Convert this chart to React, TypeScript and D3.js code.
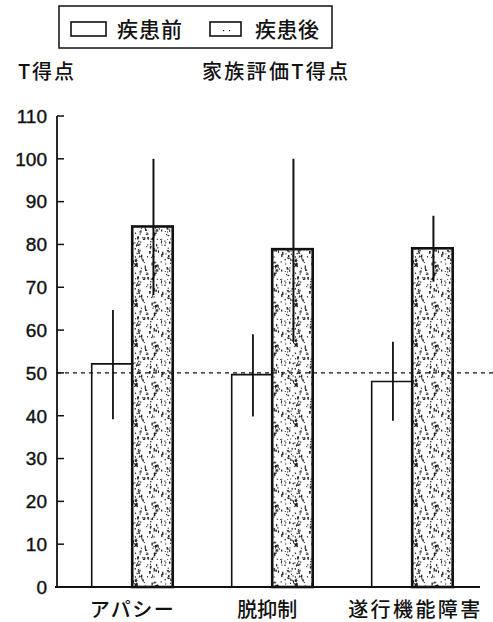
import React from "react";
import * as d3 from "d3";

// data (家族評価 T得点, mean and error bar ends)
const categories = ["アパシー", "脱抑制", "遂行機能障害"];
const seriesNames = ["疾患前", "疾患後"];
const preMean = [52.1, 49.6, 48.0];
const postMean = [84.2, 78.9, 79.1];
const preHigh = [64.7, 59.0, 57.3];
const preLow = [39.2, 39.8, 38.8];
const postHigh = [100, 100, 86.7];
const postLow = [68.2, 57.3, 71.3];
const yTicks = [0, 10, 20, 30, 40, 50, 60, 70, 80, 90, 100, 110];
const refLine = 50;

const W = 493;
const H = 622;
const axisX = 57;
const JP = "'Noto Sans CJK JP', 'Noto Sans', sans-serif";
const NUM = "'Liberation Sans', Arial, sans-serif";

// deterministic speckle for the stippled bars (texture only)
function speckles(n: number, size: number, seed: number) {
  let s = seed;
  const rnd = () => {
    s = (s * 1664525 + 1013904223) % 4294967296;
    return s / 4294967296;
  };
  const out: { x: number; y: number; w: number; h: number }[] = [];
  for (let i = 0; i < n; i++) {
    const tall = rnd() < 0.3;
    out.push({
      x: rnd() * size,
      y: rnd() * size,
      w: 0.9 + rnd() * 0.6,
      h: tall ? 1.8 + rnd() * 1.8 : 0.9 + rnd() * 0.6,
    });
  }
  return out;
}

export default function App() {
  const y = d3.scaleLinear().domain([0, 110]).range([587, 116]);
  const x = d3
    .scaleBand<string>()
    .domain(categories)
    .range([axisX, 487.4])
    .paddingInner(0.4214)
    .paddingOuter(0.248);
  const xs = d3
    .scaleBand<string>()
    .domain(seriesNames)
    .range([0, x.bandwidth()])
    .padding(0);

  const dots = React.useMemo(() => speckles(150, 40, 7), []);
  const labelWidth = [84, 60, 132];
  const labelShift = [-0.5, -5, 2];

  return (
    <svg
      width={W}
      height={H}
      style={{ position: "absolute", left: 0, top: 0, background: "#fff" }}
    >
      <defs>
        <pattern id="stipple" width={40} height={40} patternUnits="userSpaceOnUse">
          <rect width={40} height={40} fill="#fff" />
          {dots.map((d, i) => (
            <rect key={i} x={d.x} y={d.y} width={d.w} height={d.h} fill="#222" />
          ))}
        </pattern>
      </defs>

      {/* legend */}
      <rect x={59} y={6} width={273} height={42} fill="none" stroke="#111" strokeWidth={1.5} />
      <rect x={71} y={22} width={35} height={14} fill="#fff" stroke="#111" strokeWidth={1.6} />
      <text x={117} y={37} fontFamily={JP} fontWeight={500} fontSize={21} textLength={65} fill="#111">
        {seriesNames[0]}
      </text>
      <rect x={210} y={22} width={31} height={14} fill="#fff" stroke="#111" strokeWidth={1.6} />
      <rect x={223} y={30} width={1.2} height={1.2} fill="#111" />
      <rect x={229} y={30} width={1.2} height={1.2} fill="#111" />
      <text x={255} y={37} fontFamily={JP} fontWeight={500} fontSize={21} textLength={64} fill="#111">
        {seriesNames[1]}
      </text>

      {/* headers */}
      <text x={18} y={79} fontFamily={JP} fontWeight={500} fontSize={20} textLength={56} fill="#111">
        T得点
      </text>
      <text x={202} y={79} fontFamily={JP} fontWeight={500} fontSize={20} textLength={146} fill="#111">
        家族評価T得点
      </text>

      {/* y axis */}
      <line x1={axisX} x2={axisX} y1={y(110)} y2={y(0)} stroke="#111" strokeWidth={1.8} />
      {yTicks.map((t) => (
        <g key={t}>
          <line x1={axisX} x2={axisX + 7} y1={y(t)} y2={y(t)} stroke="#111" strokeWidth={1.5} />
          <text
            x={47}
            y={y(t)}
            dy="0.36em"
            textAnchor="end"
            fontFamily={NUM}
            fontSize={19}
            stroke="#111"
            strokeWidth={0.4}
            fill="#111"
          >
            {t}
          </text>
        </g>
      ))}

      {/* bars */}
      {categories.map((c, i) => {
        const x0 = x(c)!;
        const xPre = x0 + xs(seriesNames[0])!;
        const xPost = x0 + xs(seriesNames[1])!;
        const bw = xs.bandwidth();
        const cx = x0 + x.bandwidth() / 2 + labelShift[i];
        return (
          <g key={c}>
            <path
              d={`M${xPre},${y(0)}V${y(preMean[i])}H${xPre + bw}V${y(0)}`}
              fill="#fff"
              stroke="#111"
              strokeWidth={1.6}
            />
            <line
              x1={xPre + bw / 2 + 1}
              x2={xPre + bw / 2 + 1}
              y1={y(preHigh[i])}
              y2={y(preLow[i])}
              stroke="#111"
              strokeWidth={1.8}
            />
            <rect
              x={xPost}
              y={y(postMean[i])}
              width={bw}
              height={y(0) - y(postMean[i])}
              fill="url(#stipple)"
              stroke="#111"
              strokeWidth={2.6}
            />
            <line
              x1={xPost + bw / 2 + 1}
              x2={xPost + bw / 2 + 1}
              y1={y(postHigh[i])}
              y2={y(postLow[i])}
              stroke="#111"
              strokeWidth={2}
            />
            <text
              x={cx - labelWidth[i] / 2}
              y={617}
              fontFamily={JP}
              fontWeight={500}
              fontSize={20}
              textLength={labelWidth[i]}
              lengthAdjust="spacing"
              fill="#111"
            >
              {c}
            </text>
          </g>
        );
      })}

      {/* reference line */}
      <line
        x1={axisX}
        x2={W}
        y1={y(refLine)}
        y2={y(refLine)}
        stroke="#111"
        strokeWidth={1.2}
        strokeDasharray="4,4"
      />

      {/* x axis */}
      <line x1={axisX - 2} x2={480} y1={y(0)} y2={y(0)} stroke="#111" strokeWidth={1.8} />
    </svg>
  );
}
